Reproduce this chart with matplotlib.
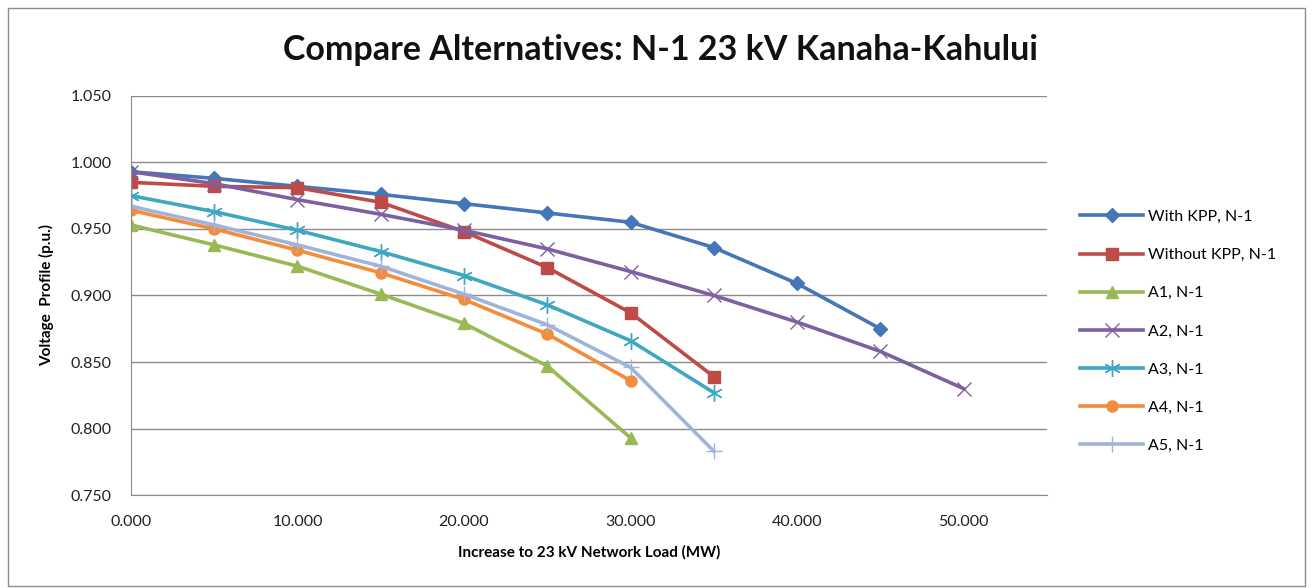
import matplotlib.pyplot as plt
from matplotlib.patches import Rectangle
from matplotlib.ticker import FormatStrFormatter, MultipleLocator

plt.rcParams['font.family'] = ['Lato', 'DejaVu Sans']

# load increase (MW) and voltage (p.u.) for each case
x_with_kpp = [0, 5, 10, 15, 20, 25, 30, 35, 40, 45]
v_with_kpp = [0.993, 0.988, 0.982, 0.976, 0.969, 0.962, 0.955, 0.936, 0.909, 0.875]

x_without_kpp = [0, 5, 10, 15, 20, 25, 30, 35]
v_without_kpp = [0.985, 0.982, 0.981, 0.970, 0.948, 0.921, 0.887, 0.839]

x_a1 = [0, 5, 10, 15, 20, 25, 30]
v_a1 = [0.953, 0.938, 0.922, 0.901, 0.879, 0.847, 0.793]

x_a2 = [0, 5, 10, 15, 20, 25, 30, 35, 40, 45, 50]
v_a2 = [0.993, 0.984, 0.972, 0.961, 0.949, 0.935, 0.918, 0.900, 0.880, 0.858, 0.830]

x_a3 = [0, 5, 10, 15, 20, 25, 30, 35]
v_a3 = [0.975, 0.963, 0.949, 0.933, 0.915, 0.893, 0.866, 0.827]

x_a4 = [0, 5, 10, 15, 20, 25, 30]
v_a4 = [0.964, 0.950, 0.934, 0.917, 0.897, 0.871, 0.836]

x_a5 = [0, 5, 10, 15, 20, 25, 30, 35]
v_a5 = [0.967, 0.953, 0.938, 0.922, 0.901, 0.878, 0.846, 0.783]

fig = plt.figure(figsize=(13.16, 5.88), dpi=100)
ax = fig.add_axes([0.0995, 0.158, 0.696, 0.679])

# chart border
fig.patches.append(Rectangle((0.006, 0.004), 0.986, 0.982, transform=fig.transFigure,
                             fill=False, edgecolor='#8c8c8c', linewidth=1.0))

lw = 2.6
ax.plot(x_with_kpp, v_with_kpp, color='#4576B8', lw=lw, marker='D', ms=7,
        label='With KPP, N-1')
ax.plot(x_without_kpp, v_without_kpp, color='#BE4B48', lw=lw, marker='s', ms=9,
        label='Without KPP, N-1')
ax.plot(x_a1, v_a1, color='#98B954', lw=lw, marker='^', ms=9, label='A1, N-1')
ax.plot(x_a2, v_a2, color='#7D60A0', lw=lw, marker='x', ms=10, mew=1.0,
        label='A2, N-1')
ax.plot(x_a3, v_a3, color='#3FA7C2', lw=lw, marker=(6, 2, 0), ms=12, mew=1.0,
        label='A3, N-1')
ax.plot(x_a4, v_a4, color='#F38C3C', lw=lw, marker='o', ms=8, label='A4, N-1')
ax.plot(x_a5, v_a5, color='#A0B3DA', lw=lw, marker='+', ms=12, mew=1.0,
        label='A5, N-1')

ax.set_xlim(0, 55)
ax.set_ylim(0.75, 1.05)
ax.xaxis.set_major_locator(MultipleLocator(10))
ax.yaxis.set_major_locator(MultipleLocator(0.05))
ax.xaxis.set_major_formatter(FormatStrFormatter('%.3f'))
ax.yaxis.set_major_formatter(FormatStrFormatter('%.3f'))
ax.grid(axis='y', color='#8c8c8c', lw=1.0)
ax.set_axisbelow(True)
for s in ['top', 'right']:
    ax.spines[s].set_visible(False)
for s in ['left', 'bottom']:
    ax.spines[s].set_color('#8c8c8c')
ax.tick_params(length=0, labelsize=11.5, colors='#222222', pad=14)
ax.tick_params(axis='x', pad=14)

ax.set_xlabel('Increase to 23 kV Network Load (MW)', fontsize=11, fontweight='bold',
              labelpad=12)
ax.set_ylabel('Voltage  Profile (p.u.)', fontsize=11, fontweight='bold', labelpad=12)

fig.text(0.502, 0.915, 'Compare Alternatives: N-1 23 kV Kanaha-Kahului', ha='center',
         va='center', fontsize=24.5, fontweight='bold', color='#111111')

ax.legend(loc='center left', bbox_to_anchor=(1.02, 0.41), frameon=False, fontsize=11.5,
          handlelength=4.0, handletextpad=0.3, labelspacing=1.5)

fig.savefig('out.png', dpi=100)
